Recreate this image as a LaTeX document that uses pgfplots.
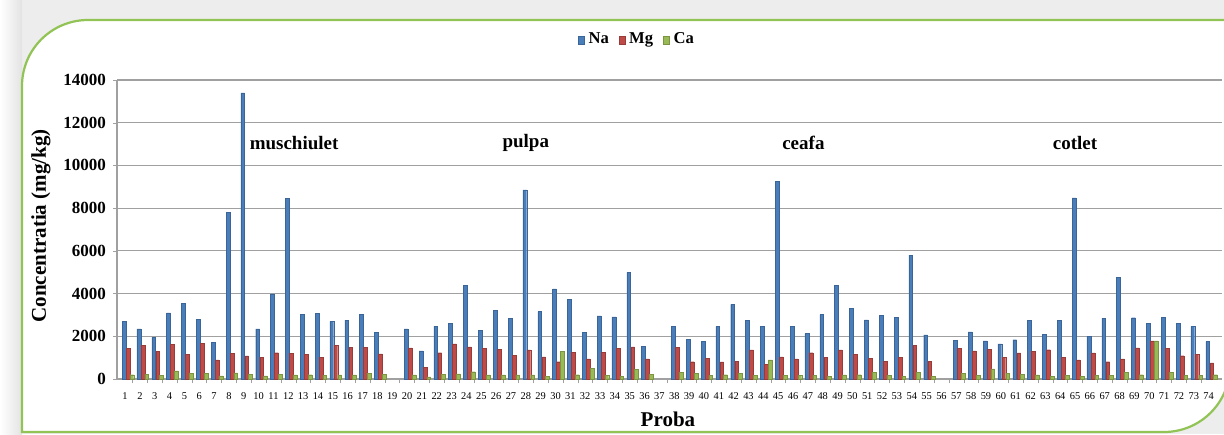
\documentclass[border=0pt]{standalone}
\usepackage{fontspec}
\setmainfont{Liberation Serif}
\usepackage{pgfplots}
\usepackage{pgfplotstable}
\pgfplotsset{compat=1.18}
\definecolor{naC}{HTML}{4A7EBB}
\definecolor{mgC}{HTML}{BE4B48}
\definecolor{caC}{HTML}{98B954}
\definecolor{frameG}{HTML}{92C355}
\definecolor{gridG}{HTML}{A0A0A0}
\pgfplotstableread{
x Na Mg Ca
1 2710 1430 200
2 2350 1590 220
3 1950 1310 180
4 3100 1620 380
5 3540 1140 260
6 2790 1670 260
7 1710 890 150
8 7790 1200 290
9 13400 1080 230
10 2350 1030 150
11 3990 1230 220
12 8460 1200 190
13 3040 1170 200
14 3090 1000 170
15 2700 1590 190
16 2760 1480 190
17 3040 1480 250
18 2180 1180 220
20 2350 1460 190
21 1320 560 100
22 2480 1230 210
23 2600 1640 240
24 4390 1510 340
25 2280 1420 190
26 3230 1400 190
27 2840 1120 190
28 8850 1360 190
29 3160 1040 140
30 4220 810 1310
31 3740 1260 200
32 2200 940 500
33 2950 1260 170
34 2910 1450 140
35 4990 1510 450
36 1530 940 230
38 2480 1480 310
39 1850 810 250
40 1750 970 170
41 2450 800 200
42 3490 830 250
43 2740 1360 170
44 2460 700 890
45 9240 1040 170
46 2480 940 170
47 2130 1230 170
48 3020 1030 140
49 4390 1360 190
50 3300 1150 200
51 2770 980 310
52 2990 840 170
53 2880 1030 140
54 5800 1560 310
55 2070 830 140
57 1810 1430 260
58 2210 1320 170
59 1790 1400 470
60 1650 1030 260
61 1840 1220 220
62 2730 1290 190
63 2090 1370 140
64 2760 1030 160
65 8480 890 140
66 2010 1220 170
67 2850 810 170
68 4770 940 300
69 2870 1460 200
70 2620 1780 1780
71 2900 1430 300
72 2620 1090 170
73 2460 1170 170
74 1750 760 200
}\data
\begin{document}
\begin{tikzpicture}
\useasboundingbox (0,0) rectangle (612pt,217pt);
\clip (0,0) rectangle (612pt,217pt);
\fill[gray!14] (0,0) rectangle (612pt,217pt);
\shade[left color=white, right color=gray!22] (0,0) rectangle (11pt,217pt);
\filldraw[fill=white, draw=frameG, line width=1.1pt]
  (11pt,1pt) -- (11pt,150pt) [rounded corners=33pt] -- (11pt,207pt) -- (300pt,207pt) [sharp corners]
  -- (615pt,207pt) -- (615pt,100pt) [rounded corners=33pt] -- (615pt,1pt) -- (300pt,1pt) [sharp corners] -- cycle;
\begin{axis}[
  at={(58.5pt,27.5pt)}, anchor=south west,
  scale only axis, width=552.5pt, height=149.5pt,
  xmin=0.46, xmax=74.9, ymin=0, ymax=14000,
  axis x line*=bottom, axis y line*=left,
  axis line style={gridG, line width=0.6pt},
  ytick={0,2000,...,14000},
  ymajorgrids, grid style={gridG, line width=0.6pt},
  xtick={1,...,74},
  x tick style={draw=none},
  minor x tick num=1,
  minor x tick style={draw=gridG},
  y tick style={draw=gridG},
  tick align=outside, major tick length=2pt, minor tick length=2pt,
  /pgf/number format/assume math mode=true,
  scaled y ticks=false,
  yticklabel style={font=\fontsize{8.5}{9}\selectfont\bfseries, /pgf/number format/1000 sep={}},
  xticklabel style={font=\fontsize{5.2}{5.5}\selectfont, yshift=-1.5pt},
  ylabel={Concentratia (mg/kg)},
  ylabel style={font=\fontsize{10.5}{11}\selectfont\bfseries, at={(axis description cs:-0.0688,0.512)}, anchor=center},
  xlabel={Proba},
  xlabel style={font=\fontsize{10.5}{11}\selectfont\bfseries, at={(axis description cs:0.4986,-0.134)}, anchor=center},
  ybar, bar width=1.9pt,
  legend columns=3,
  legend style={draw=none, fill=none, at={(axis description cs:0.4715,1.134)}, anchor=center,
    font=\fontsize{8.3}{9}\selectfont\bfseries, /tikz/every even column/.append style={column sep=3pt},
    inner sep=0pt},
  legend image code/.code={\fill[#1] (0pt,-2.2pt) rectangle (3pt,2pt);},
  clip=false,
]
\addplot[fill=naC, draw=naC!80!black, line width=0.2pt, bar shift=-0.5pt] table[x=x,y=Na]{\data};
\addplot[fill=mgC, draw=mgC!80!black, line width=0.2pt, bar shift=1.5pt] table[x=x,y=Mg]{\data};
\addplot[fill=caC, draw=caC!80!black, line width=0.2pt, bar shift=3.4pt] table[x=x,y=Ca]{\data};
\legend{Na,Mg,Ca}
\node[font=\fontsize{9.5}{10}\selectfont\bfseries] at (axis cs:12.39,11050) {muschiulet};
\node[font=\fontsize{9.5}{10}\selectfont\bfseries] at (axis cs:28.0,11050) {pulpa};
\node[font=\fontsize{9.5}{10}\selectfont\bfseries] at (axis cs:46.7,11050) {ceafa};
\node[font=\fontsize{9.5}{10}\selectfont\bfseries] at (axis cs:65.0,11050) {cotlet};
\end{axis}
\end{tikzpicture}
\end{document}
